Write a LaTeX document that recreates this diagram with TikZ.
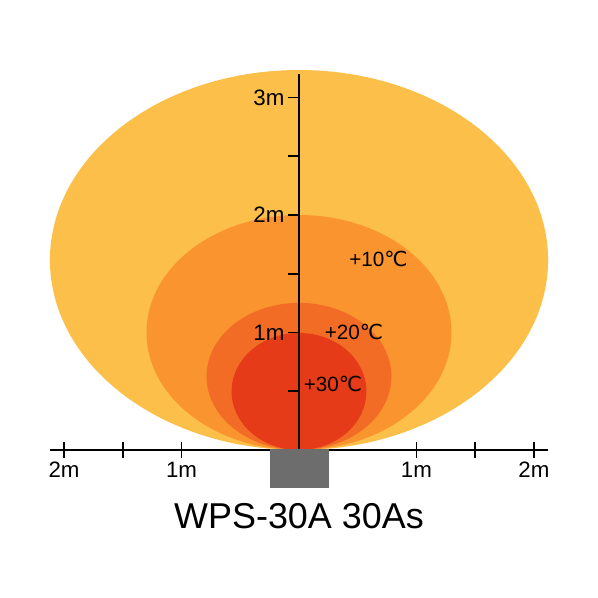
\documentclass[tikz,border=0pt]{standalone}
\usepackage{fontspec}
\setmainfont{Liberation Sans}
\newfontfamily\degfont{DejaVu Sans}
\usepackage{tikz}
\usetikzlibrary{positioning}
\definecolor{zoneA}{HTML}{FBBF4A}
\definecolor{zoneB}{HTML}{F9942F}
\definecolor{zoneC}{HTML}{F36C26}
\definecolor{zoneD}{HTML}{E63B18}
\definecolor{heater}{HTML}{6D6D6D}
\newcommand{\degC}{{\degfont ℃}}

\begin{document}
\begin{tikzpicture}[x=2cm, y=2cm,
    axis/.style={line width=0.9pt, black},
    ticklabel/.style={font=\fontsize{10.8}{12}\selectfont, inner sep=1.5pt},
    templabel/.style={font=\fontsize{10}{12}\selectfont, inner sep=0pt}]
    \useasboundingbox (-2.545,-1.26) rectangle (2.545,3.83);

    % heat zones
    \fill[zoneA] (0,1.617) ellipse [x radius=2.12, y radius=1.617];
    \fill[zoneB] (0,1.0) ellipse [x radius=1.298, y radius=1.0];
    \fill[zoneC] (0,0.626) ellipse [x radius=0.787, y radius=0.626];
    \fill[zoneD] (0,0.498) ellipse [x radius=0.574, y radius=0.498];

    % axes
    \coordinate (o) at (0,0);
    \coordinate (top) at (0,3.2);
    \coordinate (xl) at (-2.12,0);
    \coordinate (xr) at (2.12,0);
    \draw[axis] (xl) -- (xr);
    \draw[axis] (o) -- (top);

    \foreach \y in {0.5,1,...,3}
        \draw[axis] (-0.094,\y) coordinate (v\y) -- (0,\y);
    \foreach \x in {-2,-1.5,-1,1,1.5,2}
        \draw[axis] (\x,0.07) -- (\x,-0.07) coordinate (h\x);

    \node[ticklabel, left=0pt of v1] (l1) {1m};
    \node[ticklabel, left=0pt of v2] (l2) {2m};
    \node[ticklabel, left=0pt of v3] (l3) {3m};
    \node[ticklabel, below=0pt of h-2] (lm2) {2m};
    \node[ticklabel, below=0pt of h-1] (lm1) {1m};
    \node[ticklabel, below=0pt of h1] (lp1) {1m};
    \node[ticklabel, below=0pt of h2] (lp2) {2m};

    % heater
    \fill[heater] (-0.247,0.008) rectangle (0.255,-0.323);
    \node[font=\fontsize{17.4}{20}\selectfont] (title) at (0,-0.565) {WPS-30A 30As};

    % temperatures
    \node[templabel] (t10) at (0.677,1.626) {+10\degC};
    \node[templabel] (t20) at (0.468,1.004) {+20\degC};
    \node[templabel] (t30) at (0.289,0.562) {+30\degC};
\end{tikzpicture}
\end{document}
